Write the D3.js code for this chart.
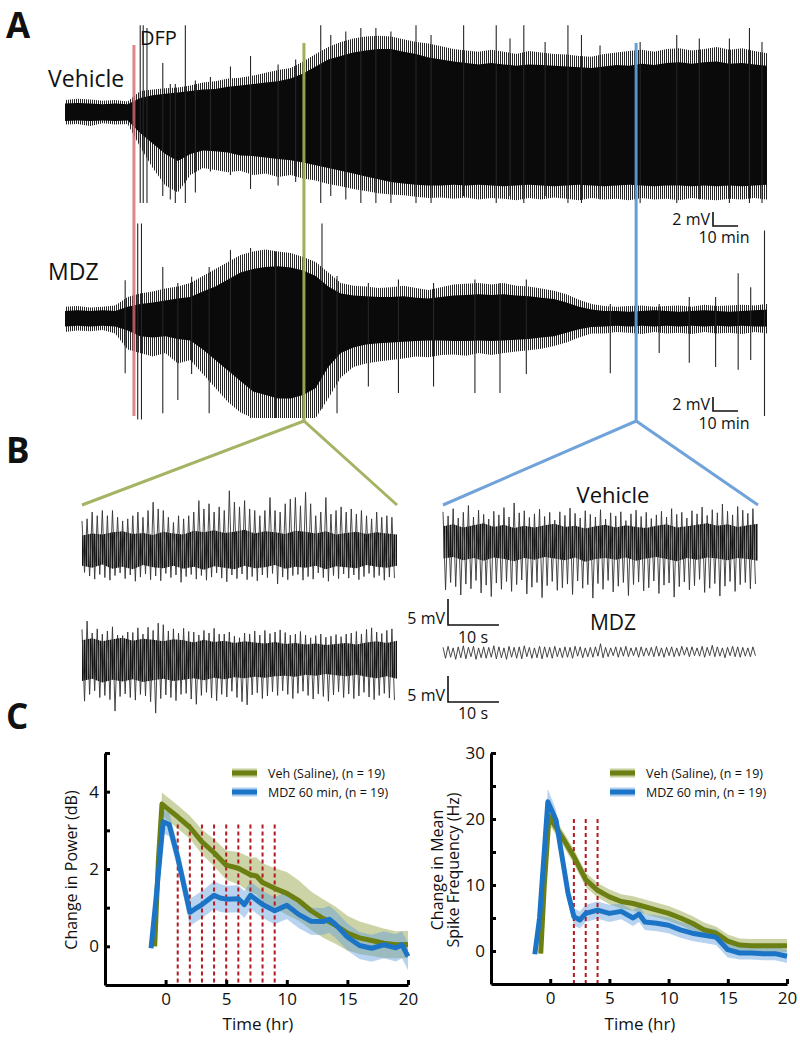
<!DOCTYPE html>
<html>
<head>
<meta charset="utf-8">
<script src="https://cdn.jsdelivr.net/npm/d3@7"></script>
<style>
  body { margin: 0; background: #fff; }
  text { font-family: "Open Sans", sans-serif; fill: #111; }
</style>
</head>
<body>
<svg id="fig" width="800" height="1042"></svg>
<script>
// ---------- panel A : long recordings, envelopes every 5 min (mV) ----------
var envTime = d3.range(0, 281, 5);
var vehUp = [1.2,1.3,1.2,1.1,1.2,1.1, 2.0,2.4,2.6,2.8,3.0,3.2, 3.3,3.6,3.8,4.0,4.2,4.4, 4.8,5.5,6.5,7.5,8.0,8.5,
  8.8,9.0,9.0,8.6,8.3,7.8, 7.5,7.2,7.0,6.8,7.0,6.8, 6.6,6.8,6.7,6.6,6.5,6.4, 6.3,6.5,6.7,6.6,6.9,6.7,
  7.0,7.1,6.9,7.1,7.2,6.9, 7.0,6.8,6.6];
var vehOutUp = [1.7,1.9,1.8,1.6,1.7,1.5, 3.0,3.2,3.4,3.5,3.8,4.2, 4.4,4.8,4.9,5.2,5.6,6.0, 6.3,7.2,8.3,9.3,10.0,10.5,
  10.8,10.9,10.8,10.4,10.0,9.8, 9.4,9.0,8.8,8.6,8.9,8.6, 8.3,8.7,8.5,8.3,8.2,8.0, 7.9,8.3,8.5,8.7,8.9,8.6,
  9.0,9.1,8.8,9.0,9.3,8.9, 9.1,8.7,8.4];
var vehDown = [-1.3,-1.2,-1.3,-1.2,-1.3,-1.2, -3.0,-4.5,-6.0,-7.0,-6.0,-5.5, -5.6,-5.8,-6.2,-6.3,-6.5,-6.7,
  -6.9,-7.2,-7.6,-8.0,-8.4,-8.8, -9.2,-9.6,-10.0,-10.2,-10.4,-10.5, -10.5,-10.4,-10.5,-10.4,-10.5,-10.6,
  -10.5,-10.4,-10.5,-10.6,-10.5,-10.4, -10.5,-10.6,-10.5,-10.4,-10.5,-10.6, -10.5,-10.5,-10.6,-10.5,-10.6,-10.5,
  -10.6,-10.5,-10.4];
var vehOutDown = [-1.8,-1.7,-2.0,-1.6,-1.8,-1.7, -5.0,-8.0,-10.5,-11.5,-9.0,-8.0, -8.3,-8.6,-8.4,-9.0,-8.8,-9.3,
  -9.0,-9.5,-9.8,-10.3,-10.6,-11.0, -11.3,-11.6,-11.8,-11.9,-12.1,-12.3, -12.2,-12.4,-12.2,-12.5,-12.3,-12.4,
  -12.6,-12.3,-12.5,-12.2,-12.4,-12.6, -12.3,-12.5,-12.4,-12.6,-12.3,-12.5, -12.4,-12.6,-12.3,-12.5,-12.6,-12.4,
  -12.5,-12.3,-12.5];
// [time, top, bottom] of the tallest spikes
var vehSpikes = [
  [30, 12.4, -13], [31.2, 12.4, -13], [32.7, 12.0, -13], [39, 7, -12], [42, 4, -12.5], [44, 4, -13],
  [48, 12.4, -13], [52, 4.5, -11.5], [58, 5.0, -8.5], [66, 6.5, -9], [74, 8, -11], [85, 6.8, -10.5], [92, 7.5, -10],
  [102, 12.4, -13], [106, 11, -12], [112, 11.5, -12.5], [118, 12, -13], [124, 12, -13], [130, 11.5, -13],
  [140, 12.4, -13], [146, 11, -13], [159, 12.4, -12], [172, 12.4, -13], [177.5, 10.5, -12], [183, 12.4, -13],
  [191.5, 10, -12], [200.6, 12.4, -13], [206, 11, -13], [213.4, 9.5, -12.5], [229.4, 10, -13], [244, 11, -13],
  [253, 10.5, -12.5], [265, 10.5, -13], [273, 12, -13], [278, 10, -13]
];

var mdzUp = [1.0,1.1,1.0,1.1,1.0,1.6, 2.0,2.2,2.5,2.8,3.0,3.8, 4.5,5.5,6.5,7.0,7.3,7.4, 7.2,6.8,6.0,4.5,3.5,3.2,
  3.1,3.0,3.0,3.1,2.9,2.8, 3.0,3.2,3.3,3.4,3.3,3.4, 3.2,3.1,2.9,2.7,2.2,1.6, 1.2,1.0,1.0,0.9,1.0,1.1,
  1.0,0.9,1.0,1.1,1.0,0.9, 1.0,1.1,1.2];
var mdzOutUp = [1.6,1.7,1.5,1.6,1.8,3.0, 3.5,3.8,4.2,4.5,5.0,6.0, 7.0,8.0,9.0,9.5,9.8,9.5, 9.3,8.7,8.0,6.5,5.0,4.6,
  4.5,4.3,4.4,4.6,4.3,4.0, 4.4,4.8,4.9,5.0,4.8,5.0, 4.6,4.5,4.2,3.9,3.4,2.6, 2.0,1.7,1.6,1.7,1.8,1.6,
  1.7,1.8,1.6,1.9,1.7,1.8, 1.9,1.8,2.0];
var mdzDown = [-1.2,-1.1,-1.2,-1.1,-1.2,-1.8, -2.6,-2.8,-2.6,-3.0,-3.2,-4.5, -6.0,-7.5,-9.0,-10.5,-11.0,-11.5,
  -11.5,-11.0,-10.0,-7.0,-5.0,-4.2, -3.8,-3.6,-3.5,-3.4,-3.3,-3.2, -3.2,-3.3,-3.3,-3.2,-3.3,-3.2,
  -3.1,-3.0,-2.8,-2.6,-2.1,-1.6, -1.3,-1.2,-1.1,-1.2,-1.1,-1.2, -1.1,-1.2,-1.1,-1.2,-1.1,-1.2, -1.1,-1.2,-1.2];
var mdzOutDown = [-2.0,-1.8,-1.9,-1.7,-2.2,-4.5, -5.0,-5.5,-5.0,-6.5,-6.0,-8.0, -10.0,-12.0,-13.5,-14.3,-14.3,-14.3,
  -14.3,-14.3,-14.3,-11.5,-8.5,-7.0, -6.5,-6.2,-6.0,-5.8,-5.5,-5.6, -5.3,-5.2,-5.4,-5.0,-5.3,-5.0,
  -4.8,-4.6,-4.4,-4.0,-3.5,-2.8, -2.2,-2.2,-2.0,-2.1,-2.3,-2.0, -2.2,-2.1,-2.3,-2.0,-2.2,-2.1, -2.3,-2.0,-2.2];
var mdzSpikes = [
  [24, 5.4, -7.9], [29, 13.5, -14.5], [30.5, 13.5, -14.5], [39, 7.3, -13.6], [45, 5, -11.7], [50.5, 5.9, -8],
  [57.5, 7.3, -13.6], [66, 9.7, -11], [74, 10, -14.3], [84, 9.5, -14.3], [102.5, 13.5, -13], [108.5, 6, -13.6],
  [121, 5, -9.8], [133, 5.5, -10.7], [147, 5, -9.8], [163.5, 5.5, -10.7], [173.5, 5, -10.7], [184, 5.5, -8],
  [217.5, 2, -7.9], [237, 2, -5], [249, 3, -6.4], [259.5, 3, -7], [268.5, 6.4, -7.4], [273.5, 4.4, -6], [279, 12.5, -14]
];

var markTimes = [27.5, 95.3, 227.8];          // DFP, zoom 1, zoom 2
var markColors = ["#d46a6e", "#9aac52", "#5b9bd5"];

// ---------- panel B : 62 s excerpts, one up/down pair per second (mV) ----------
var tlUp = [5.4,5.8,7.1,6.4,7.4,6.4,7.4,6.1,5.4,5.8,6.4,7.1,6.1,7.4,9.0,7.7,7.4,6.1,5.1,6.4,5.8,6.4,7.1,9.3,7.7,8.7,7.1,8.1,7.4,11.2,9.0,8.1,9.3,7.7,7.4,6.4,7.4,9.9,7.4,7.1,8.7,9.6,9.9,8.3,10.9,8.7,6.4,7.1,9.9,6.7,7.4,8.1,7.1,7.7,6.7,7.4,6.4,5.8,7.1,6.1,6.4,6.1];
var tlDown = [-4.5,-5.2,-5.8,-4.9,-5.5,-6.0,-5.1,-4.6,-5.7,-5.0,-6.2,-5.4,-4.8,-5.9,-5.2,-6.1,-4.7,-5.5,-5.0,-6.4,-5.3,-4.9,-5.8,-5.1,-6.0,-5.4,-4.6,-5.6,-6.3,-5.0,-5.7,-4.8,-5.9,-5.3,-6.1,-5.0,-5.5,-4.7,-6.7,-5.4,-5.9,-5.1,-4.9,-6.0,-5.3,-5.8,-4.6,-5.5,-6.2,-5.1,-5.7,-4.8,-5.6,-5.0,-5.9,-5.3,-4.7,-5.5,-5.1,-6.0,-5.4,-5.6];
var blUp = [5.5,7.1,4.8,5.6,4.6,5.2,6.0,4.4,4.3,5.0,4.9,5.8,4.6,5.9,5.3,6.7,6.4,5.2,5.6,4.8,5.7,5.1,5.0,4.4,5.3,4.8,5.7,4.6,4.6,5.0,4.2,3.9,4.8,4.6,5.2,4.4,5.3,4.7,5.0,5.4,4.9,4.4,4.6,5.1,4.4,3.9,4.3,4.6,4.0,4.2,4.5,4.1,4.6,4.8,5.1,4.6,5.5,5.8,5.0,4.7,5.3,5.6];
var blDown = [-8.3,-7.0,-6.3,-7.6,-7.2,-8.0,-10.2,-7.4,-6.9,-7.6,-8.1,-7.0,-7.3,-8.4,-10.6,-7.8,-7.1,-7.6,-8.2,-7.0,-6.8,-7.9,-8.9,-7.2,-6.6,-7.7,-8.2,-7.0,-7.5,-6.4,-7.6,-8.4,-9.0,-7.1,-6.7,-7.8,-7.3,-6.5,-7.2,-6.3,-7.0,-7.8,-6.8,-6.4,-7.2,-7.9,-6.9,-7.4,-8.3,-7.1,-6.5,-7.6,-6.9,-7.8,-7.3,-6.6,-7.5,-8.0,-7.2,-6.8,-7.7,-8.1];
var trUp = [6.0,5.2,6.6,4.8,5.9,7.2,5.0,6.3,5.5,4.6,6.1,5.4,6.8,5.0,7.7,5.8,6.2,4.9,5.6,6.5,5.1,5.9,4.4,6.0,5.3,6.7,5.7,4.8,6.2,5.5,5.0,6.4,4.6,5.8,5.2,6.0,4.3,5.6,6.3,5.1,5.9,4.7,5.4,6.1,5.0,6.6,5.5,5.9,4.8,6.2,5.6,6.9,5.3,6.4,5.8,7.5,6.1,5.4,7.0,6.3,5.7,6.6];
var trDown = [-9.0,-7.6,-8.4,-10.0,-7.9,-8.8,-7.2,-9.6,-8.1,-10.3,-7.7,-8.9,-7.4,-9.3,-8.0,-7.1,-9.8,-8.5,-7.6,-10.5,-8.2,-7.4,-9.1,-8.6,-7.9,-9.9,-7.3,-8.7,-8.0,-10.6,-7.8,-8.9,-7.2,-9.4,-8.3,-7.6,-10.1,-8.0,-7.5,-9.2,-8.6,-7.3,-9.7,-8.1,-7.7,-10.4,-8.4,-7.5,-9.0,-8.2,-7.0,-9.5,-8.7,-7.8,-10.2,-8.3,-7.4,-9.3,-8.0,-7.6,-8.8,-7.9];
var brUp = [0.7,0.9,0.6,0.8,1.0,0.7,0.9,0.6,0.8,0.7,1.0,0.8,0.6,0.9,0.7,0.8,1.0,0.7,0.6,0.9,0.8,0.7,0.9,0.6,0.8,0.7,0.9,0.8,0.6,0.7,0.8,1.4,0.7,0.6,0.8,0.7,0.9,0.6,0.7,0.8,0.6,0.7,0.9,0.6,0.7,0.8,0.6,0.9,0.7,0.8,0.6,0.9,0.7,1.1,0.8,0.6,0.7,0.9,0.8,0.7,0.6,0.8];
var brDown = [-1.4,-1.2,-1.6,-1.3,-1.5,-1.1,-1.6,-1.3,-1.4,-1.2,-1.5,-1.3,-1.6,-1.2,-1.4,-1.5,-1.1,-1.4,-1.3,-1.5,-1.2,-1.4,-1.1,-1.3,-1.2,-1.4,-1.0,-1.3,-1.1,-1.2,-1.0,-1.3,-1.1,-0.9,-1.2,-1.0,-1.1,-0.9,-1.2,-1.0,-0.9,-1.1,-1.0,-1.2,-0.9,-1.1,-1.0,-0.8,-1.1,-0.9,-1.0,-1.2,-0.9,-1.1,-1.0,-1.3,-0.9,-1.1,-1.2,-1.0,-1.1,-0.9];
// dense core of each excerpt, every 2 s
var coreTime = d3.range(0, 63, 2);
var tlCoreUp = [2.6,3.0,2.8,3.2,3.4,2.9,3.1,2.7,3.3,3.0,2.8,3.5,3.2,3.6,3.1,3.3,3.7,3.0,3.4,3.2,2.9,3.5,3.3,3.0,3.4,2.8,3.1,3.3,2.9,3.2,3.0,2.8];
var tlCoreDown = [-3.2,-3.6,-3.0,-3.8,-3.4,-3.9,-3.1,-3.5,-3.7,-3.2,-3.8,-3.4,-4.0,-3.3,-3.6,-3.9,-3.2,-3.7,-3.5,-3.1,-3.8,-3.4,-3.6,-3.2,-3.9,-3.3,-3.5,-3.7,-3.1,-3.4,-3.6,-3.2];
var blCoreUp = [3.4,3.8,3.2,3.6,3.9,3.3,3.7,3.5,3.2,3.6,3.4,3.0,3.5,3.1,3.3,2.9,3.2,3.0,2.8,3.1,2.7,2.9,2.6,2.8,2.5,2.7,2.9,2.6,3.0,3.2,2.9,3.3];
var blCoreDown = [-4.4,-4.0,-4.7,-4.2,-4.5,-4.1,-4.6,-4.3,-4.0,-4.4,-4.2,-3.9,-4.3,-3.8,-4.1,-3.7,-3.9,-3.6,-3.8,-3.5,-3.4,-3.6,-3.2,-3.4,-3.1,-3.3,-3.5,-3.2,-3.6,-3.9,-3.5,-4.0];
var trCoreUp = [3.2,3.6,3.0,3.4,3.8,3.1,3.5,2.9,3.3,3.0,3.4,3.7,3.1,3.3,2.8,3.2,3.5,3.0,3.4,3.1,2.9,3.3,3.6,3.0,3.2,3.5,3.8,3.3,3.6,3.1,3.4,3.7];
var trCoreDown = [-3.0,-2.7,-3.3,-2.9,-3.4,-2.8,-3.1,-3.5,-2.9,-3.2,-2.7,-3.0,-3.3,-2.8,-3.6,-3.1,-2.9,-3.2,-2.8,-3.4,-3.0,-2.7,-3.1,-3.5,-2.9,-3.2,-2.8,-3.0,-3.3,-2.9,-3.1,-3.4];

// ---------- panel C : group averages ----------
var powVehT   = [-0.9, -0.6, -0.3, 0, 1, 2, 3, 4, 5, 6, 7, 7.5, 8, 9, 10, 11, 12, 13, 14, 15, 16, 17, 18, 19, 20];
var powVeh    = [0, 2.2, 3.68, 3.6, 3.35, 3.08, 2.7, 2.42, 2.1, 2.02, 1.85, 1.82, 1.65, 1.5, 1.37, 1.18, 0.92, 0.72, 0.55, 0.34, 0.22, 0.15, 0.08, 0.04, 0.05];
var powVehErr = [0.05, 0.2, 0.3, 0.3, 0.3, 0.3, 0.32, 0.35, 0.38, 0.42, 0.45, 0.48, 0.5, 0.52, 0.55, 0.52, 0.5, 0.5, 0.48, 0.45, 0.42, 0.4, 0.38, 0.35, 0.35];
var powMdzT   = [-1.2, -0.8, -0.2, 0.3, 1, 1.5, 2, 2.5, 3, 4, 4.5, 5, 6, 6.5, 7, 8, 9, 10, 11, 12, 13, 13.5, 14, 15, 16, 17, 18, 19, 19.5, 20];
var powMdz    = [-0.05, 1.2, 3.22, 3.15, 2.3, 1.6, 0.88, 0.98, 1.08, 1.32, 1.25, 1.22, 1.23, 1.08, 1.32, 1.08, 0.92, 1.06, 0.82, 0.65, 0.64, 0.7, 0.57, 0.24, 0.02, -0.05, 0.04, -0.04, 0.04, -0.26];
var powMdzErr = [0.05, 0.2, 0.3, 0.3, 0.32, 0.35, 0.35, 0.35, 0.35, 0.36, 0.36, 0.35, 0.35, 0.35, 0.35, 0.35, 0.35, 0.35, 0.35, 0.35, 0.35, 0.35, 0.35, 0.35, 0.35, 0.35, 0.35, 0.35, 0.35, 0.35];

var frqVehT   = [-0.8, -0.5, -0.1, 1, 2, 3, 4, 5, 6, 7, 8, 9, 10, 11, 12, 13, 14, 15, 16, 17, 18, 19, 20];
var frqVeh    = [-0.4, 10, 20.4, 17.3, 14.3, 10.8, 9.2, 8.2, 7.5, 7.2, 6.7, 6.2, 5.7, 5.0, 4.2, 3.2, 2.7, 1.5, 0.9, 0.8, 0.8, 0.8, 0.8];
var frqVehErr = [0.3, 1, 1.2, 1.1, 1.1, 1.1, 1.1, 1.1, 1.1, 1.1, 1.1, 1.1, 1.1, 1.1, 1.1, 1.1, 1.0, 1.0, 1.0, 1.0, 1.0, 1.0, 1.0];
var frqMdzT   = [-1.3, -0.9, -0.2, 0.5, 1, 1.5, 2, 2.5, 3, 4, 5, 6, 7, 7.5, 8, 9, 10, 11, 12, 13, 14, 15, 16, 17, 18, 19, 20];
var frqMdz    = [-0.5, 5, 22.6, 19.8, 14.3, 8.8, 5.2, 4.7, 5.7, 6.2, 5.7, 6.0, 5.0, 5.6, 4.4, 4.2, 3.9, 3.2, 2.7, 2.4, 2.1, 0.2, -0.3, -0.3, -0.4, -0.4, -0.8];
var frqMdzErr = [0.3, 1, 2, 1.5, 1.3, 1.3, 1.3, 1.3, 1.3, 1.3, 1.3, 1.2, 1.2, 1.2, 1.2, 1.2, 1.2, 1.2, 1.2, 1.2, 1.2, 1.2, 1.0, 1.0, 1.0, 1.0, 1.0];

var powDashes = [1, 2, 3, 4, 5, 6, 7, 8, 9];
var frqDashes = [2, 3, 4];
var legendNames = ["Veh (Saline), (n = 19)", "MDZ 60 min, (n = 19)"];

var svg = d3.select("#fig");

// vertical hatching used for the fuzzy parts of the traces
var defs = svg.append("defs");
defs.append("pattern").attr("id", "fringe").attr("patternUnits", "userSpaceOnUse")
  .attr("width", 2).attr("height", 10)
  .append("rect").attr("width", 1).attr("height", 10).attr("fill", "#262626");
defs.append("pattern").attr("id", "dense").attr("patternUnits", "userSpaceOnUse")
  .attr("width", 2).attr("height", 10)
  .append("rect").attr("width", 1.5).attr("height", 10).attr("fill", "#111");

// panel letters
[["A", 38], ["B", 463], ["C", 729]].forEach(function(p) {
  svg.append("text").attr("x", 6).attr("y", p[1]).text(p[0])
    .attr("font-size", "35px").attr("font-weight", 700);
});

// ===== A =====
var xA = d3.scaleLinear().domain([0, 280]).range([65, 767]);

function mvScale(base, pxPerMv) {
  return d3.scaleLinear().domain([0, 1]).range([base, base - pxPerMv]);
}

function drawLong(up, down, outUp, outDown, spikes, base) {
  var y = mvScale(base, 7);
  var pts = envTime.map(function(t, i) { return { t: t, u: up[i], d: down[i], ou: outUp[i], od: outDown[i] }; });
  svg.append("path").datum(pts)
    .attr("d", d3.area().x(d => xA(d.t)).y0(d => y(d.od)).y1(d => y(d.ou)))
    .attr("fill", "url(#fringe)");
  svg.append("path").datum(pts)
    .attr("d", d3.area().x(d => xA(d.t)).y0(d => y(d.d)).y1(d => y(d.u)))
    .attr("fill", "#0a0a0a");
  svg.append("g").selectAll("line").data(spikes).enter().append("line")
    .attr("x1", d => xA(d[0])).attr("x2", d => xA(d[0]))
    .attr("y1", d => y(d[1])).attr("y2", d => y(d[2]))
    .attr("stroke", "#262626").attr("stroke-width", 1.1);
}

drawLong(vehUp, vehDown, vehOutUp, vehOutDown, vehSpikes, 112);
drawLong(mdzUp, mdzDown, mdzOutUp, mdzOutDown, mdzSpikes, 318);

svg.append("text").attr("x", 48).attr("y", 87).attr("font-size", "23px").text("Vehicle");
svg.append("text").attr("x", 48).attr("y", 280).attr("font-size", "23px").text("MDZ");
svg.append("text").attr("x", 140).attr("y", 45).attr("font-size", "20px").text("DFP");

// marker lines and zoom wedges
var apexY = 421, wedgeY = 505;
svg.append("line").attr("x1", xA(markTimes[0])).attr("x2", xA(markTimes[0]))
  .attr("y1", 45).attr("y2", 416).attr("stroke", markColors[0]).attr("stroke-width", 3).attr("opacity", 0.8);
[[1, 82, 397], [2, 443, 758]].forEach(function(m) {
  var xm = xA(markTimes[m[0]]);
  svg.append("line").attr("x1", xm).attr("x2", xm).attr("y1", 43).attr("y2", apexY)
    .attr("stroke", markColors[m[0]]).attr("stroke-width", 3).attr("opacity", 0.95);
  svg.append("path").attr("d", "M" + m[1] + "," + wedgeY + "L" + xm + "," + apexY + "L" + m[2] + "," + wedgeY)
    .attr("fill", "none").attr("stroke", m[0] === 1 ? "#a4b465" : "#6fa3d9").attr("stroke-width", 3);
});

function scaleBar(x0, yBottom, hPx, wPx, vLabel, hLabel, hLabelY, hLabelX) {
  svg.append("path").attr("d", "M" + x0 + "," + (yBottom - hPx) + "V" + yBottom + "H" + (x0 + wPx))
    .attr("fill", "none").attr("stroke", "#111").attr("stroke-width", 1.6);
  svg.append("text").attr("x", x0 - 3).attr("y", yBottom - 1).attr("text-anchor", "end")
    .attr("font-size", "16px").text(vLabel);
  svg.append("text").attr("x", hLabelX).attr("y", hLabelY).attr("text-anchor", "middle")
    .attr("font-size", "16px").text(hLabel);
}
var mvA = mvScale(0, 7);
scaleBar(713, 226, -mvA(2), xA(10) - xA(0), "2 mV", "10 min", 243, 724);
scaleBar(713, 411, -mvA(2), xA(10) - xA(0), "2 mV", "10 min", 429, 724);

// ===== B =====
function drawShort(x0, x1, base, up, down, cUp, cDown) {
  var t = d3.scaleLinear().domain([0, up.length]).range([x0, x1]);
  var y = mvScale(base, 5.2);
  if (cUp) {
    var core = coreTime.map(function(s, i) { return { s: s, u: cUp[i], d: cDown[i] }; });
    svg.append("path").datum(core)
      .attr("d", d3.area().x(d => t(d.s)).y0(d => y(d.d)).y1(d => y(d.u)))
      .attr("fill", "url(#dense)");
  }
  var pts = [];
  up.forEach(function(v, i) {
    pts.push([t(i), y(v)]);
    pts.push([t(i + 0.5), y(down[i])]);
  });
  svg.append("path").attr("d", d3.line()(pts))
    .attr("fill", "none").attr("stroke", "#333").attr("stroke-width", 0.9).attr("stroke-linejoin", "bevel");
}
drawShort(82, 397, 549, tlUp, tlDown, tlCoreUp, tlCoreDown);
drawShort(82, 397, 658, blUp, blDown, blCoreUp, blCoreDown);
drawShort(443, 758, 543, trUp, trDown, trCoreUp, trCoreDown);
drawShort(443, 758, 651, brUp, brDown, null, null);

svg.append("text").attr("x", 613).attr("y", 503).attr("text-anchor", "middle").attr("font-size", "22px").text("Vehicle");
svg.append("text").attr("x", 613).attr("y", 630).attr("text-anchor", "middle").attr("font-size", "21px").text("MDZ");

var tB = d3.scaleLinear().domain([0, 62]).range([0, 316]);
var mvB = mvScale(0, 5.2);
scaleBar(448, 625, -mvB(5), tB(10), "5 mV", "10 s", 643, 473);
scaleBar(448, 702, -mvB(5), tB(10), "5 mV", "10 s", 719, 473);

// ===== C =====
var green = "#6b7f12", blue = "#1b74c6";
var greenBand = "#8f9f3c", blueBand = "#5f9ddc";

function drawPanel(cfg) {
  var x = d3.scaleLinear().domain([-5, 20]).range(cfg.xr);
  var y = d3.scaleLinear().domain(cfg.yd).range(cfg.yr);
  var g = svg.append("g");

  var series = [
    { t: cfg.vehT, v: cfg.veh, e: cfg.vehErr, c: green, b: greenBand },
    { t: cfg.mdzT, v: cfg.mdz, e: cfg.mdzErr, c: blue, b: blueBand }
  ];
  series.forEach(function(s) {
    var pts = s.t.map(function(t, i) { return { t: t, v: s.v[i], e: s.e[i] }; });
    g.append("path").datum(pts)
      .attr("d", d3.area().x(d => x(d.t)).y0(d => y(d.v - d.e)).y1(d => y(d.v + d.e)))
      .attr("fill", s.b).attr("opacity", 0.45);
  });

  g.selectAll(".dash").data(cfg.dashes).enter().append("line")
    .attr("x1", d => x(d)).attr("x2", d => x(d))
    .attr("y1", y(cfg.dashTop)).attr("y2", cfg.yr[0])
    .attr("stroke", "#b51a23").attr("stroke-width", 2).attr("stroke-dasharray", "4,3");

  series.forEach(function(s) {
    var pts = s.t.map(function(t, i) { return [x(t), y(s.v[i])]; });
    g.append("path").attr("d", d3.line()(pts))
      .attr("fill", "none").attr("stroke", s.c).attr("stroke-width", 5)
      .attr("stroke-linejoin", "round");
  });

  var xAxis = g.append("g").attr("transform", "translate(0," + cfg.yr[0] + ")")
    .call(d3.axisBottom(x).tickValues([0, 5, 10, 15, 20]).tickSize(-5).tickSizeOuter(0).tickPadding(8));
  var yAxis = g.append("g").attr("transform", "translate(" + cfg.xr[0] + ",0)")
    .call(d3.axisLeft(y).tickValues(cfg.yTicks).tickSize(-5).tickSizeOuter(0).tickPadding(6)
      .tickFormat(d => cfg.yLabels.indexOf(d) >= 0 ? d : ""));
  [xAxis, yAxis].forEach(function(a) {
    a.select(".domain").attr("stroke", "#000").attr("stroke-width", 3);
    a.selectAll(".tick line").attr("stroke", "#000").attr("stroke-width", 3);
    a.selectAll("text").attr("font-family", "Open Sans, sans-serif").attr("font-size", "17px").attr("fill", "#111");
  });

  g.append("text").attr("x", cfg.titleX).attr("y", 1030).attr("text-anchor", "middle")
    .attr("font-size", "17px").text("Time (hr)");
  cfg.yTitle.forEach(function(line, i) {
    g.append("text").attr("transform", "translate(" + cfg.yTitleX[i] + "," + cfg.yTitleY + ") rotate(-90)")
      .attr("text-anchor", "middle").attr("font-size", cfg.yTitleSize).text(line);
  });

  series.forEach(function(s, i) {
    var ly = 773 + i * 19;
    g.append("rect").attr("x", cfg.legX).attr("y", ly - 4.5).attr("width", 25).attr("height", 9)
      .attr("fill", s.b).attr("opacity", 0.5);
    g.append("line").attr("x1", cfg.legX).attr("x2", cfg.legX + 25).attr("y1", ly).attr("y2", ly)
      .attr("stroke", s.c).attr("stroke-width", 5);
    g.append("text").attr("x", cfg.legX + 36).attr("y", ly + 4.5).attr("font-size", "12.5px").text(legendNames[i]);
  });
}

drawPanel({
  xr: [105, 408], yd: [-1, 5], yr: [985, 753],
  vehT: powVehT, veh: powVeh, vehErr: powVehErr,
  mdzT: powMdzT, mdz: powMdz, mdzErr: powMdzErr,
  dashes: powDashes, dashTop: 3.15,
  yTicks: [0, 1, 2, 3, 4, 5], yLabels: [0, 2, 4],
  titleX: 258, yTitle: ["Change in Power  (dB)"], yTitleX: [77], yTitleY: 870, yTitleSize: "16px",
  legX: 232
});
drawPanel({
  xr: [491, 787], yd: [-5, 30], yr: [984, 753],
  vehT: frqVehT, veh: frqVeh, vehErr: frqVehErr,
  mdzT: frqMdzT, mdz: frqMdz, mdzErr: frqMdzErr,
  dashes: frqDashes, dashTop: 20,
  yTicks: [0, 5, 10, 15, 20, 25, 30], yLabels: [0, 10, 20, 30],
  titleX: 640, yTitle: ["Change in Mean", "Spike Frequency (Hz)"], yTitleX: [443, 459], yTitleY: 870, yTitleSize: "16px",
  legX: 610
});
</script>
</body>
</html>
